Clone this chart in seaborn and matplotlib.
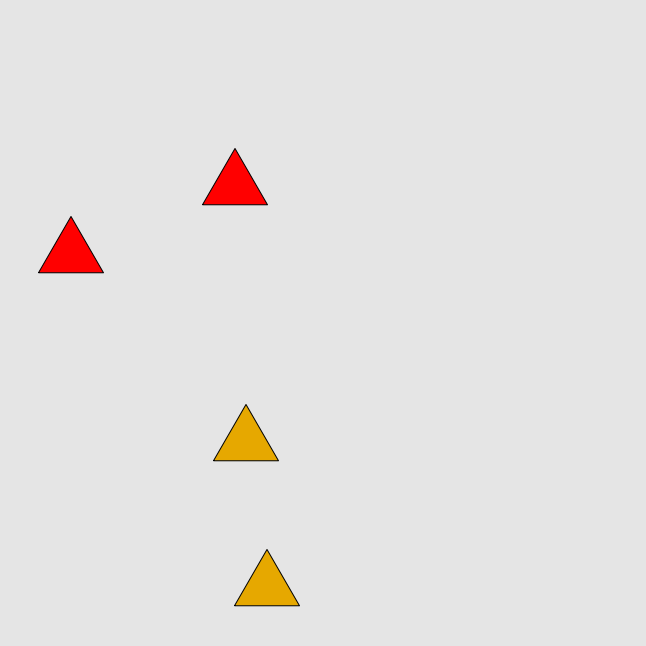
import matplotlib
matplotlib.use("Agg")
import matplotlib.pyplot as plt
import seaborn as sns
import pandas as pd
import numpy as np

x_vals = [235, 71, 246, 267]
y_vals = [460.0, 392.0, 204.0, 59.0]
groups = ["A", "A", "B", "B"]
palette = {"A": "#FF0000", "B": "#E6A800"}

df = pd.DataFrame({"x": x_vals, "y": y_vals, "group": groups})

h = np.sqrt(3)
tri = [(-1, -h / 3), (1, -h / 3), (0, 2 * h / 3), (-1, -h / 3)]

fig = plt.figure(figsize=(646 / 72, 646 / 72), dpi=72)
fig.patch.set_facecolor("#E5E5E5")
ax = fig.add_axes([0, 0, 1, 1])
ax.set_facecolor("#E5E5E5")
ms = 65 / 0.866
sns.scatterplot(data=df, x="x", y="y", hue="group", palette=palette,
                marker=tri, s=ms ** 2, edgecolor="black", linewidth=1,
                legend=False, ax=ax)
ax.set_xlim(0, 646)
ax.set_ylim(0, 646)
ax.set_axis_off()
fig.savefig("out.png", dpi=72, facecolor="#E5E5E5")
